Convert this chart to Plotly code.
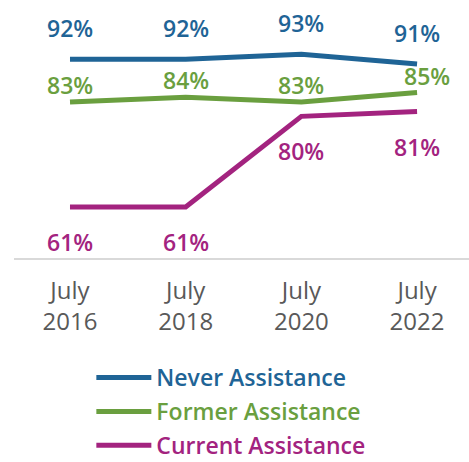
import plotly.graph_objects as go

categories = ["July<br>2016", "July<br>2018", "July<br>2020", "July<br>2022"]
never = [92, 92, 93, 91]
former = [83, 84, 83, 85]
current = [61, 61, 80, 81]

series = [
    ("Never Assistance", never, "#1f6496", 31),
    ("Former Assistance", former, "#6a9f3f", 17),
    ("Current Assistance", current, "#a3237f", -35),
]

FONT = "Open Sans"
xs = list(range(len(categories)))
fig = go.Figure()
for name, vals, color, shift in series:
    fig.add_trace(go.Scatter(
        x=xs, y=vals, mode="lines",
        line=dict(color=color, width=5),
        name=f"<span style='color:{color}'>{name}</span>",
        legendgroup=name,
    ))
    for i, v in enumerate(vals):
        last_green = (vals is former and i == len(vals) - 1)
        fig.add_annotation(
            x=xs[i], y=v, text=f"{v}%", showarrow=False,
            yshift=shift, xshift=10 if last_green else 0,
            font=dict(color=color, size=23, family=FONT, weight=600),
        )

fig.update_layout(
    width=469, height=462,
    margin=dict(l=14, r=0, t=0, b=204, autoexpand=False),
    paper_bgcolor="white", plot_bgcolor="white",
    showlegend=True,
    legend=dict(
        x=0.17, y=-0.38, xanchor="left", yanchor="top",
        orientation="v",
        font=dict(size=23, family=FONT, weight=600),
        itemwidth=55, tracegroupgap=1,
        bgcolor="rgba(0,0,0,0)",
    ),
    xaxis=dict(
        tickmode="array", tickvals=xs, ticktext=categories,
        range=[-0.484, 3.449],
        showgrid=False, zeroline=False,
        showline=True, linecolor="#d9d9d9", linewidth=2,
        ticks="", ticklen=0, ticklabelstandoff=10,
        tickfont=dict(size=24, color="#595959", family=FONT),
    ),
    yaxis=dict(range=[50.3, 104.4], visible=False, showgrid=False, zeroline=False),
)

fig.write_html("out.html")
